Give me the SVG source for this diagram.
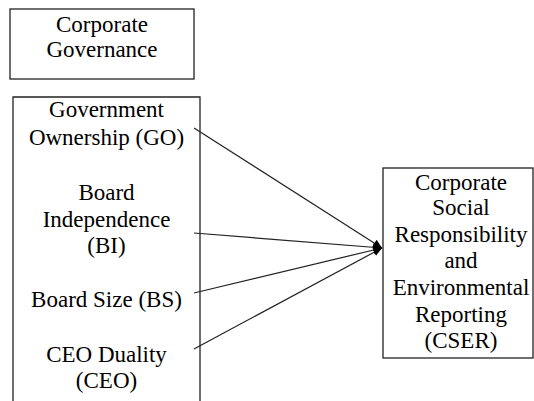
<svg xmlns="http://www.w3.org/2000/svg" width="534" height="401" viewBox="0 0 534 401">
<defs>
<style>
.box{fill:#fff;stroke:#222;stroke-width:1.3}
.t{font-family:'Liberation Serif','Times New Roman',serif;font-size:23px;fill:#000;text-anchor:middle}
.c{stroke:#222;stroke-width:1.2;fill:none}
</style>
<marker id="ah" viewBox="0 0 10 10" refX="10" refY="5" markerWidth="9" markerHeight="9" markerUnits="userSpaceOnUse" orient="auto">
<path d="M0,0.5 L10,5 L0,9.5 Z" fill="#000"/>
</marker>
</defs>
<rect width="534" height="401" fill="#fff"/>
<g id="cg">
<rect class="box" x="10" y="9" width="184" height="70"/>
<text class="t" x="102" y="32">Corporate</text>
<text class="t" x="102" y="57">Governance</text>
</g>
<g id="left">
<path class="box" d="M13,405 L13,97 L200,97 L200,405"/>
<text class="t" x="106.5" y="117">Government</text>
<text class="t" x="106.5" y="145">Ownership (GO)</text>
<text class="t" x="106.5" y="200">Board</text>
<text class="t" x="106.5" y="227">Independence</text>
<text class="t" x="106.5" y="253">(BI)</text>
<text class="t" x="106.5" y="307">Board Size (BS)</text>
<text class="t" x="106.5" y="362">CEO Duality</text>
<text class="t" x="106.5" y="388">(CEO)</text>
</g>
<g id="cser">
<rect class="box" x="383" y="168" width="150" height="190"/>
<text class="t" x="461" y="190">Corporate</text>
<text class="t" x="461" y="215">Social</text>
<text class="t" x="461" y="242">Responsibility</text>
<text class="t" x="461" y="268">and</text>
<text class="t" x="461" y="295">Environmental</text>
<text class="t" x="461" y="322">Reporting</text>
<text class="t" x="461" y="348">(CSER)</text>
</g>
<g id="connectors">
<line class="c" x1="194" y1="128" x2="382" y2="248" marker-end="url(#ah)"/>
<line class="c" x1="194" y1="233" x2="382" y2="248" marker-end="url(#ah)"/>
<line class="c" x1="194" y1="293" x2="382" y2="248" marker-end="url(#ah)"/>
<line class="c" x1="194" y1="349" x2="382" y2="248" marker-end="url(#ah)"/>
</g>
</svg>
